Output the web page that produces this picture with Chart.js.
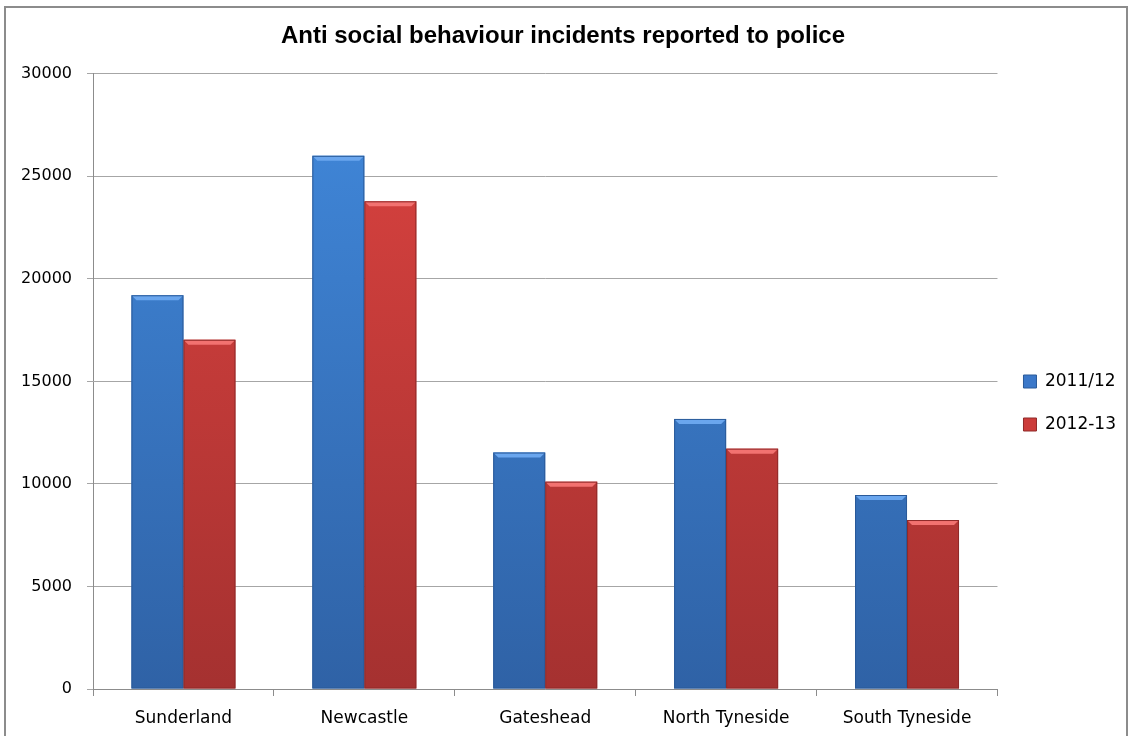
<!DOCTYPE html>
<html>
<head>
<meta charset="utf-8">
<script src="https://cdn.jsdelivr.net/npm/chart.js@4.4.1/dist/chart.umd.min.js"></script>
<style>
  html, body { margin: 0; padding: 0; background: #fff; }
  #wrap { position: relative; width: 1131px; height: 736px; overflow: hidden; }
  #frame { position: absolute; left: 4px; top: 6px; width: 1124px; height: 760px; border: 2px solid #8c8c8c; box-sizing: border-box; }
  canvas { position: absolute; left: 0; top: 0; }
</style>
</head>
<body>
<div id="wrap">
  <div id="frame"></div>
  <canvas id="chart" width="1131" height="736"></canvas>
</div>
<script>
// datos
const districts = ['Sunderland', 'Newcastle', 'Gateshead', 'North Tyneside', 'South Tyneside'];
const series2011 = [19200, 26000, 11530, 13170, 9460];
const series2012 = [17030, 23780, 10110, 11720, 8240];
const seriesNames = ['2011/12', '2012-13'];
const yTicks = [0, 5000, 10000, 15000, 20000, 25000, 30000];

const palette = {
    blue: { top: '#4189dc', bottom: '#2f62a6', edge: '#2a5a99', bevel: '#6aa6ee', flat: '#3b78c9' },
    red:  { top: '#dc4340', bottom: '#a53130', edge: '#8f2a29', bevel: '#f27270', flat: '#cc3c3a' }
};

// degradado vertical sobre el área del gráfico
function gradientFor(c) {
    return function (context) {
        const chart = context.chart;
        const area = chart.chartArea;
        if (!area) return c.flat;
        const g = chart.ctx.createLinearGradient(0, area.top, 0, area.bottom);
        g.addColorStop(0, c.top);
        g.addColorStop(1, c.bottom);
        return g;
    };
}

// biselado en la parte superior de cada barra
const bevelPlugin = {
    id: 'bevel',
    afterDatasetsDraw(chart) {
        const ctx = chart.ctx;
        chart.data.datasets.forEach((ds, i) => {
            const meta = chart.getDatasetMeta(i);
            const c = i === 0 ? palette.blue : palette.red;
            meta.data.forEach(bar => {
                const { x, y, base, width } = bar.getProps(['x', 'y', 'base', 'width'], true);
                const l = x - width / 2, r = x + width / 2, d = 5;
                ctx.save();
                ctx.fillStyle = c.bevel;
                ctx.beginPath();
                ctx.moveTo(l, y);
                ctx.lineTo(r, y);
                ctx.lineTo(r - d, y + d);
                ctx.lineTo(l + d, y + d);
                ctx.closePath();
                ctx.fill();
                ctx.strokeStyle = c.edge;
                ctx.lineWidth = 1;
                ctx.strokeRect(l + 0.5, y + 0.5, width - 1, base - y - 1);
                ctx.restore();
            });
        });
    }
};

const ctx = document.getElementById('chart').getContext('2d');
new Chart(ctx, {
    type: 'bar',
    data: {
        labels: districts,
        datasets: [
            {
                label: seriesNames[0],
                data: series2011,
                backgroundColor: gradientFor(palette.blue),
                borderWidth: 0
            },
            {
                label: seriesNames[1],
                data: series2012,
                backgroundColor: gradientFor(palette.red),
                borderWidth: 0
            }
        ]
    },
    options: {
        responsive: false,
        animation: false,
        devicePixelRatio: 1,
        layout: { padding: { left: 0, right: 5, top: 6, bottom: 7 } },
        datasets: { bar: { barPercentage: 1, categoryPercentage: 0.575 } },
        plugins: {
            title: {
                display: true,
                text: 'Anti social behaviour incidents reported to police',
                color: '#000',
                font: { family: "'Liberation Sans Narrow', 'Liberation Sans', Arial, sans-serif", size: 24, weight: 'bold' },
                padding: { top: 16, bottom: 23 }
            },
            legend: {
                position: 'right',
                // título vacío para bajar la leyenda
                title: {
                    display: true,
                    text: '',
                    font: { size: 10 },
                    padding: { top: 30, bottom: 29 }
                },
                labels: {
                    color: '#000',
                    boxWidth: 13,
                    boxHeight: 13,
                    padding: 26,
                    font: { family: "'DejaVu Sans', sans-serif", size: 17 },
                    generateLabels(chart) {
                        return chart.data.datasets.map((ds, i) => ({
                            text: ds.label,
                            fillStyle: i === 0 ? palette.blue.flat : palette.red.flat,
                            strokeStyle: i === 0 ? palette.blue.edge : palette.red.edge,
                            lineWidth: 1,
                            datasetIndex: i,
                            fontColor: '#000'
                        }));
                    }
                }
            },
            tooltip: { enabled: false }
        },
        scales: {
            x: {
                afterFit(scale) { scale.height = 40; },
                grid: { drawOnChartArea: false, drawTicks: true, tickLength: 7, color: '#8c8c8c' },
                border: { display: true, color: '#8c8c8c' },
                ticks: {
                    color: '#000',
                    padding: 12,
                    font: { family: "'DejaVu Sans', sans-serif", size: 17 }
                }
            },
            y: {
                min: 0,
                max: 30000,
                afterFit(scale) { scale.width = 93; },
                afterBuildTicks(scale) { scale.ticks = yTicks.map(v => ({ value: v })); },
                grid: { color: '#a6a6a6', tickLength: 6, drawTicks: true },
                border: { display: true, color: '#8c8c8c' },
                ticks: {
                    color: '#000',
                    padding: 15,
                    font: { family: "'DejaVu Sans', sans-serif", size: 16 },
                    callback: v => String(v)
                }
            }
        }
    },
    plugins: [bevelPlugin]
});
</script>
</body>
</html>
